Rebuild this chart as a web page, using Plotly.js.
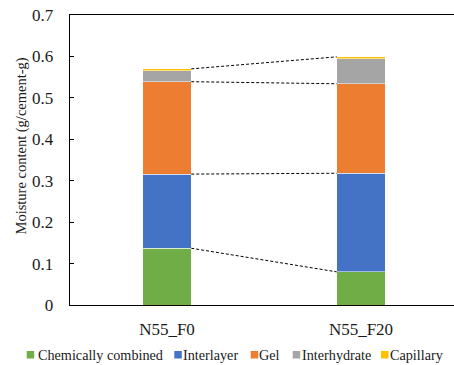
<!DOCTYPE html>
<html>
<head>
<meta charset="utf-8">
<script src="https://cdn.plot.ly/plotly-3.0.1.min.js"></script>
<style>
  html, body { margin: 0; padding: 0; overflow: hidden; background: #ffffff; }
</style>
</head>
<body>
<div id="chart"></div>
<script>
// Mix designs on the category axis
const samples = ['N55_F0', 'N55_F20'];

// Water types, bottom to top of each stack
const waterTypes = ['Chemically combined', 'Interlayer', 'Gel', 'Interhydrate', 'Capillary'];

// Moisture content per water type (g/cement-g)
const chemicallyCombined = [0.137, 0.080];
const interlayer = [0.179, 0.238];
const gel = [0.223, 0.216];
const interhydrate = [0.027, 0.060];
const capillary = [0.004, 0.005];

// Value axis ticks
const yTicks = [0, 0.1, 0.2, 0.3, 0.4, 0.5, 0.6, 0.7];
const yTickText = ['0', '0.1', '0.2', '0.3', '0.4', '0.5', '0.6', '0.7'];

// ---- styling ----
const colors = ['#70AD47', '#4472C4', '#ED7D31', '#A5A5A5', '#FFC000'];
const FONT = 'Liberation Serif';
const TEXT = '#1a1a1a';
const BAR_WIDTH = 0.25;
const W = 458, H = 365;
const M = { l: 70, r: 0, t: 15, b: 60 };
const plotW = W - M.l - M.r, plotH = H - M.t - M.b;
const px2x = p => (p - M.l) / plotW;        // pixel -> paper x
const px2y = p => (H - M.b - p) / plotH;    // pixel -> paper y

const series = [chemicallyCombined, interlayer, gel, interhydrate, capillary];
const xPos = samples.map((_, i) => i);

// stacked bars
const traces = series.map((vals, k) => ({
  type: 'bar',
  name: waterTypes[k],
  x: xPos,
  y: vals,
  width: BAR_WIDTH,
  marker: { color: colors[k], line: { color: '#ffffff', width: 0.5 } },
  showlegend: false,
  hoverinfo: 'name+y'
}));

// running tops of each stack
const cumulative = [];
series.forEach((vals, k) => {
  cumulative.push(vals.map((v, i) => v + (k ? cumulative[k - 1][i] : 0)));
});

// dashed series lines between the two stacks (combined, interlayer, gel, total)
[0, 1, 2, series.length - 1].forEach(k => {
  traces.push({
    type: 'scatter',
    mode: 'lines',
    x: [xPos[0] + BAR_WIDTH / 2, xPos[1] - BAR_WIDTH / 2],
    y: [cumulative[k][0], cumulative[k][1]],
    line: { color: '#000000', width: 1, dash: '3px,2px' },
    showlegend: false,
    hoverinfo: 'skip'
  });
});

// legend row along the bottom
const legendSquares = [26.7, 174.3, 250.7, 292.7, 381];
const legendTexts = [37.5, 182.5, 259.3, 301.7, 390];
const legendY = 354.5;
const shapes = [];
const annotations = [];
waterTypes.forEach((name, k) => {
  shapes.push({
    type: 'rect', xref: 'paper', yref: 'paper',
    x0: px2x(legendSquares[k]), x1: px2x(legendSquares[k] + 7.5),
    y0: px2y(legendY + 4), y1: px2y(legendY - 3.5),
    fillcolor: colors[k], line: { width: 0 }
  });
  annotations.push({
    xref: 'paper', yref: 'paper',
    x: px2x(legendTexts[k]), y: px2y(legendY),
    xanchor: 'left', yanchor: 'middle',
    text: name, showarrow: false,
    borderpad: 0, borderwidth: 0,
    font: { family: FONT, size: 14.2, color: TEXT }
  });
});

// value axis title
annotations.push({
  xref: 'paper', yref: 'paper',
  x: px2x(21), y: px2y(146.5),
  xanchor: 'center', yanchor: 'middle',
  text: 'Moisture content (g/cement-g)', textangle: -90,
  showarrow: false, borderpad: 0,
  font: { family: FONT, size: 14.5, color: TEXT }
});

const layout = {
  width: W, height: H,
  margin: M,
  paper_bgcolor: '#ffffff',
  plot_bgcolor: '#ffffff',
  barmode: 'stack',
  showlegend: false,
  font: { family: FONT, color: TEXT },
  xaxis: {
    range: [-0.5, 1.5],
    tickmode: 'array', tickvals: xPos, ticktext: samples,
    ticks: '', showgrid: false, zeroline: false,
    showline: true, linecolor: '#000000', linewidth: 1.3, mirror: true,
    tickfont: { family: FONT, size: 17, color: TEXT },
    ticklabelstandoff: 8,
    fixedrange: true
  },
  yaxis: {
    range: [0, 0.7],
    tickmode: 'array', tickvals: yTicks, ticktext: yTickText,
    ticks: 'inside', ticklen: 4, tickwidth: 1, tickcolor: '#000000',
    showgrid: false, zeroline: false,
    showline: true, linecolor: '#000000', linewidth: 1.3, mirror: true,
    tickfont: { family: FONT, size: 17, color: TEXT },
    ticklabelstandoff: 12,
    fixedrange: true
  },
  shapes: shapes,
  annotations: annotations
};

Plotly.newPlot('chart', traces, layout, { displayModeBar: false, staticPlot: true });
</script>
</body>
</html>
